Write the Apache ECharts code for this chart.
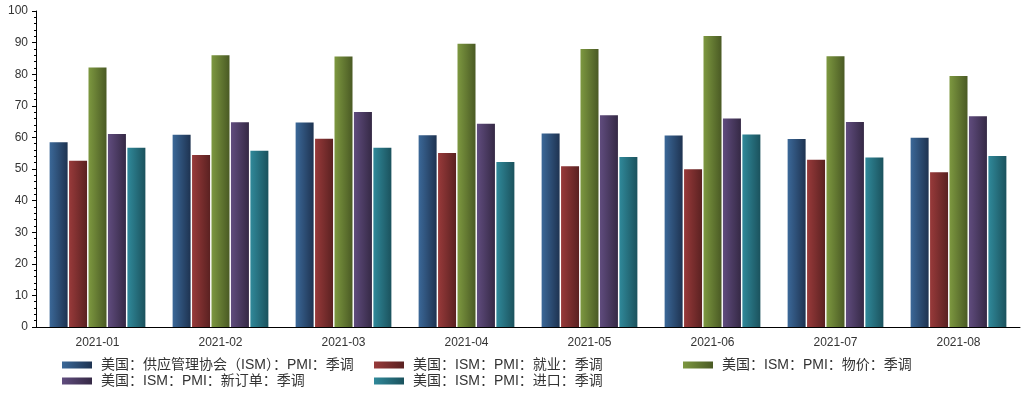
<!DOCTYPE html>
<html><head><meta charset="utf-8">
<script src="https://cdn.jsdelivr.net/npm/echarts@6/dist/echarts.min.js"></script>
<style>html,body{margin:0;padding:0;background:#fff}#c{width:1024px;height:394px}</style>
</head><body><div id="c"></div>
<script>
const categories = ['2021-01','2021-02','2021-03','2021-04','2021-05','2021-06','2021-07','2021-08'];
const seriesNames = ['美国：供应管理协会（ISM）：PMI：季调','美国：ISM：PMI：就业：季调','美国：ISM：PMI：物价：季调','美国：ISM：PMI：新订单：季调','美国：ISM：PMI：进口：季调'];
const pmi = [58.5, 60.8, 64.7, 60.7, 61.2, 60.6, 59.5, 59.9];
const employment = [52.6, 54.4, 59.6, 55.1, 50.9, 49.9, 52.9, 49.0];
const prices = [82.1, 86.0, 85.6, 89.6, 88.0, 92.1, 85.7, 79.4];
const newOrders = [61.1, 64.8, 68.0, 64.3, 67.0, 66.0, 64.9, 66.7];
const imports = [56.7, 55.8, 56.7, 52.2, 53.8, 60.9, 53.6, 54.1];
const values = [pmi, employment, prices, newOrders, imports];
const colorPairs = [['#3b6898','#1e3351'],['#983a3a','#5a2121'],['#7d9840','#4a5a24'],['#604c7e','#352945'],['#30899a','#1b525d']];
function grad(c){return new echarts.graphic.LinearGradient(0,0,1,0,[{offset:0,color:c[0]},{offset:1,color:c[1]}]);}
const chart = echarts.init(document.getElementById('c'), null, {renderer:'canvas'});
const font = "Arial, 'Noto Sans CJK SC', sans-serif";
// legend slots: [left, top] per series
const legendPos = [[56,358],[368,358],[677,358],[56,374],[368,374]];
const legends = seriesNames.map((n,i)=>({
  left:legendPos[i][0], top:legendPos[i][1], data:[n], padding:[0,0,0,6],
  itemWidth:30, itemHeight:7, icon:'rect',
  textStyle:{fontSize:14, color:'#333', fontFamily:font, padding:[0,0,0,4]}
}));
chart.setOption({
  animation:false,
  textStyle:{fontFamily:font},
  grid:{left:36, right:4, top:11, bottom:67},
  legend:legends,
  xAxis:{type:'category', data:categories,
    axisLine:{lineStyle:{color:'#000', width:1}},
    axisTick:{alignWithLabel:true, length:5, lineStyle:{color:'#000'}},
    axisLabel:{fontSize:12, color:'#333', margin:10}},
  yAxis:{type:'value', min:0, max:100, interval:10,
    axisLine:{show:true, lineStyle:{color:'#000'}},
    axisTick:{show:true, length:4, lineStyle:{color:'#000'}},
    minorTick:{show:true, splitNumber:5, length:2, lineStyle:{color:'#000'}},
    splitLine:{show:false},
    axisLabel:{fontSize:12, color:'#333', margin:8}},
  series: values.map((v,i)=>({
    name:seriesNames[i], type:'bar', data:v, barWidth:18, barGap:'8%',
    itemStyle:{color:grad(colorPairs[i])}
  }))
});
</script></body></html>
